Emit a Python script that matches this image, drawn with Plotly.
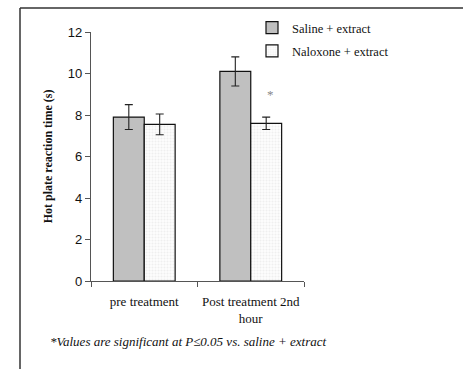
import plotly.graph_objects as go

categories = ["pre treatment", "Post treatment 2nd<br>hour"]
saline_values = [7.9, 10.1]
saline_errors = [0.6, 0.7]
naloxone_values = [7.55, 7.6]
naloxone_errors = [0.5, 0.3]
series_names = ["Saline + extract", "Naloxone + extract"]
y_ticks = [0, 2, 4, 6, 8, 10, 12]
footnote = "*Values are significant at P≤0.05 vs. saline + extract"

SERIF = "Liberation Serif, Times New Roman, serif"
SANS = "Liberation Sans, Arial, sans-serif"

W, H = 463, 369
L, R, T, B = 91, 159, 32, 88
pw, ph = W - L - R, H - T - B

def px_x(x):
    return (x - L) / pw

def px_y(y):
    return (H - B - y) / ph

fig = go.Figure()
fig.add_trace(go.Bar(
    x=categories, y=saline_values, name=series_names[0],
    marker=dict(color="#c0c0c0", line=dict(color="#111", width=1.2)),
    error_y=dict(type="data", array=saline_errors, color="#222", thickness=1.1, width=4),
    legendgroup="a",
))
fig.add_trace(go.Bar(
    x=categories, y=naloxone_values, name=series_names[1],
    marker=dict(color="#fbfbfb", line=dict(color="#111", width=1.2),
                pattern=dict(shape=".", fgcolor="#e2e2e2", bgcolor="#fdfdfd", size=3, solidity=0.35)),
    error_y=dict(type="data", array=naloxone_errors, color="#222", thickness=1.1, width=4),
    legendgroup="b",
))

fig.add_annotation(x=categories[1], y=9.0, xref="x", yref="y", text="*", showarrow=False,
                   xshift=20, font=dict(family=SERIF, size=13, color="#888"))
fig.add_annotation(x=px_x(48), y=px_y(341), xref="paper", yref="paper", xanchor="left", yanchor="middle",
                   text="<i>" + footnote + "</i>", showarrow=False,
                   font=dict(family=SERIF, size=13, color="#111"))

# outer frame (left and top)
fig.add_shape(type="line", xref="paper", yref="paper", x0=px_x(20), x1=px_x(466), y0=px_y(8), y1=px_y(8),
              line=dict(color="#333", width=1.5))
fig.add_shape(type="line", xref="paper", yref="paper", x0=px_x(20), x1=px_x(20), y0=px_y(8), y1=px_y(372),
              line=dict(color="#333", width=1.5))

fig.update_layout(
    width=W, height=H, margin=dict(l=L, r=R, t=T, b=B, pad=0, autoexpand=False),
    paper_bgcolor="white", plot_bgcolor="white",
    barmode="group", bargap=0.42, bargroupgap=0,
    showlegend=True,
    legend=dict(xref="container", yref="container", x=252 / W, y=1 - 13 / H,
                xanchor="left", yanchor="top",
                font=dict(family=SERIF, size=12.5, color="#111"),
                bgcolor="rgba(0,0,0,0)", traceorder="grouped", tracegroupgap=4,
                itemwidth=30),
    xaxis=dict(showline=True, linecolor="#555", linewidth=1.2, ticks="outside", tickson="boundaries",
               ticklen=5, tickcolor="#555", tickangle=0, automargin=False, ticklabelstandoff=8,
               tickfont=dict(family=SERIF, size=13, color="#111"),
               showgrid=False, zeroline=False),
    yaxis=dict(range=[0, 12], tickvals=y_ticks, showline=True, linecolor="#555", linewidth=1.2,
               ticks="outside", ticklen=5, tickcolor="#555", showgrid=False, zeroline=False,
               automargin=False,
               tickfont=dict(family=SANS, size=13, color="#111"),
               title=dict(text="<b>Hot plate reaction time (s)</b>", standoff=12,
                          font=dict(family=SERIF, size=12, color="#111"))),
)

fig.write_html("out.html", config={"displayModeBar": False},
               post_script="document.body.style.margin='0';")
